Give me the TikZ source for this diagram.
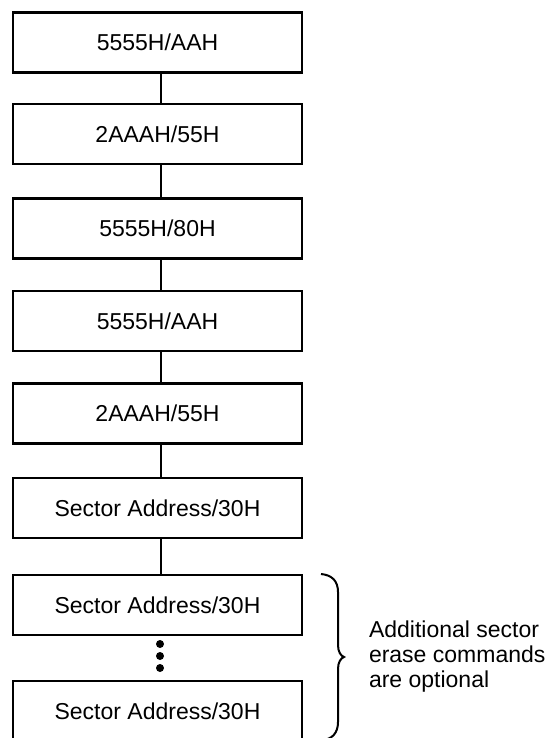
\documentclass[tikz,border=0pt]{standalone}
\usepackage{fontspec}
\setmainfont{Liberation Sans}
\usepackage{tikz}
\usetikzlibrary{positioning}
\tikzset{
% Define standard command box
cmdbox/.style={rectangle, draw=black, line width=2.5pt, minimum width=289pt, minimum height=60pt, inner sep=0, font=\fontsize{23}{26}\selectfont},
cmdline/.style={draw=black, line width=1.5pt}
}

\begin{document}
\begin{tikzpicture}[x=1pt, y=1pt, inner sep=0, outer sep=0]
  \clip (0,0) rectangle (547,-738);

  \node[cmdbox] (cmd1) at (157.5,-42.5) {5555H/AAH};
  \node[cmdbox] (cmd2) at (157.5,-134) {2AAAH/55H};
  \node[cmdbox] (cmd3) at (157.5,-228.5) {5555H/80H};
  \node[cmdbox] (cmd4) at (157.5,-321) {5555H/AAH};
  \node[cmdbox] (cmd5) at (157.5,-413.5) {2AAAH/55H};
  \node[cmdbox] (cmd6) at (157.5,-508) {Sector Address/30H};
  \node[cmdbox] (cmd7) at (157.5,-605) {Sector Address/30H};
  \node[cmdbox] (cmd8) at (157.5,-711) {Sector Address/30H};

  \draw[cmdline] ([xshift=3.5pt]cmd1.south) -- ([xshift=3.5pt]cmd2.north);
  \draw[cmdline] ([xshift=3.5pt]cmd2.south) -- ([xshift=3.5pt]cmd3.north);
  \draw[cmdline] ([xshift=3.5pt]cmd3.south) -- ([xshift=3.5pt]cmd4.north);
  \draw[cmdline] ([xshift=3.5pt]cmd4.south) -- ([xshift=3.5pt]cmd5.north);
  \draw[cmdline] ([xshift=3.5pt]cmd5.south) -- ([xshift=3.5pt]cmd6.north);
  \draw[cmdline] ([xshift=3.5pt]cmd6.south) -- ([xshift=3.5pt]cmd7.north);

  % dots between the optional commands
  \fill ([xshift=2.5pt,yshift=-9pt]cmd7.south) circle (4pt);
  \fill ([xshift=2.5pt,yshift=-21pt]cmd7.south) circle (4pt);
  \fill ([xshift=2.5pt,yshift=-33pt]cmd7.south) circle (4pt);

  % brace
  \coordinate (btop) at (321,-574);
  \coordinate (btip) at (344,-657);
  \coordinate (bbot) at (321,-740);
  \draw[line width=2pt] (btop) .. controls (332,-575) and (338,-581) .. (338,-592)
    -- (338,-645) .. controls (338,-652) and (341,-656) .. (btip)
    .. controls (341,-658) and (338,-662) .. (338,-669)
    -- (338,-722) .. controls (338,-733) and (332,-740) .. (bbot);

  \node[anchor=west, align=left, font=\fontsize{23}{25}\selectfont] (note) at (369,-657)
    {Additional sector\\erase commands\\are optional};
\end{tikzpicture}
\end{document}
